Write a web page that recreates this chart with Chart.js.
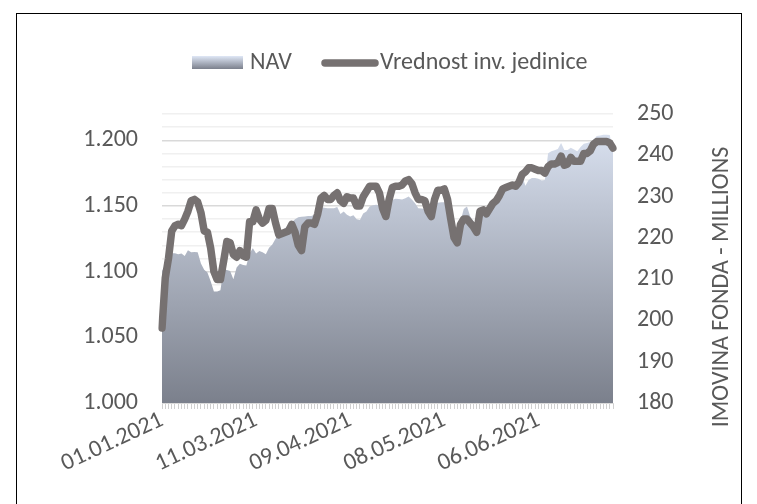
<!DOCTYPE html>
<html>
<head>
<meta charset="utf-8">
<script src="https://cdn.jsdelivr.net/npm/chart.js@4.4.1/dist/chart.umd.min.js"></script>
<style>
  html, body { margin: 0; padding: 0; background: #fff; }
  #frame { position: absolute; left: 16px; top: 13px; width: 724px; height: 510px; border: 1px solid #000; }
  #wrap { position: absolute; left: 0; top: 0; width: 757px; height: 504px; }
</style>
</head>
<body>
<div id="frame"></div>
<div id="wrap"><canvas id="chart" width="757" height="504"></canvas></div>
<script>
// category dates: first fund day, then daily from 11.02.2021 to 29.06.2021
const startDate = "01.01.2021";
const dailyFrom = [2021, 1, 11]; // year, month index, day
const dailyCount = 139;
const shownDates = ["01.01.2021", "11.03.2021", "09.04.2021", "08.05.2021", "06.06.2021"];

const dates = [startDate];
for (let i = 0; i < dailyCount; i++) {
  const d = new Date(dailyFrom[0], dailyFrom[1], dailyFrom[2] + i);
  const dd = String(d.getDate()).padStart(2, "0");
  const mm = String(d.getMonth() + 1).padStart(2, "0");
  dates.push(`${dd}.${mm}.${d.getFullYear()}`);
}

// Vrednost inv. jedinice (left axis)
const unitValue = [
  1.057, 1.095, 1.110, 1.131, 1.135, 1.136, 1.135, 1.140, 1.146, 1.154,
  1.155, 1.153, 1.145, 1.131, 1.130, 1.118, 1.100, 1.094, 1.094, 1.108,
  1.123, 1.122, 1.113, 1.111, 1.116, 1.112, 1.111, 1.138, 1.138, 1.147,
  1.140, 1.137, 1.139, 1.148, 1.148, 1.137, 1.128, 1.129, 1.130, 1.131,
  1.136, 1.130, 1.120, 1.116, 1.134, 1.137, 1.137, 1.136, 1.144, 1.156,
  1.158, 1.155, 1.155, 1.158, 1.160, 1.154, 1.152, 1.157, 1.156, 1.156,
  1.150, 1.150, 1.157, 1.161, 1.165, 1.165, 1.165, 1.160, 1.148, 1.142,
  1.155, 1.164, 1.165, 1.165, 1.166, 1.169, 1.170, 1.167, 1.160, 1.155,
  1.155, 1.154, 1.146, 1.142, 1.155, 1.162, 1.162, 1.163, 1.155, 1.140,
  1.126, 1.122, 1.136, 1.140, 1.140, 1.137, 1.134, 1.130, 1.146, 1.147,
  1.144, 1.148, 1.152, 1.154, 1.158, 1.163, 1.164, 1.165, 1.166, 1.165,
  1.168, 1.174, 1.176, 1.179, 1.179, 1.178, 1.177, 1.177, 1.175, 1.180,
  1.182, 1.182, 1.183, 1.188, 1.181, 1.182, 1.187, 1.184, 1.184, 1.184,
  1.190, 1.190, 1.192, 1.197, 1.199, 1.199, 1.199, 1.199, 1.198, 1.194
];

// NAV in millions (right axis)
const nav = [
  212.0, 213.5, 215.0, 216.3, 216.3, 216.0, 216.2, 215.6, 217.0, 216.5,
  216.6, 216.5, 213.8, 212.3, 211.6, 209.5, 207.0, 207.0, 207.3, 212.4,
  212.2, 212.0, 210.0, 212.8, 213.7, 213.4, 213.3, 216.3, 217.5, 216.2,
  216.8, 216.5, 216.0, 217.6, 218.4, 219.8, 220.8, 221.8, 222.4, 223.2,
  223.8, 224.5, 225.0, 225.1, 225.2, 225.3, 225.3, 225.6, 226.8, 227.5,
  227.3, 227.2, 227.2, 227.2, 227.5, 225.8, 226.4, 225.6, 225.2, 225.5,
  224.5, 224.3, 225.9, 226.4, 227.6, 227.9, 228.0, 227.9, 227.8, 228.3,
  228.8, 229.2, 229.5, 229.4, 229.3, 229.6, 230.0, 229.3, 228.4, 227.2,
  227.1, 227.0, 227.1, 227.8, 228.3, 228.5, 228.6, 228.6, 228.6, 227.2,
  223.0, 221.5, 224.0, 227.0, 227.6, 225.2, 224.0, 222.6, 225.5, 227.5,
  227.0, 226.5, 227.3, 228.6, 229.8, 231.3, 231.8, 232.2, 232.5, 232.6,
  233.2, 235.0, 232.6, 234.0, 234.5, 234.5, 234.3, 233.9, 234.0, 240.5,
  241.0, 241.2, 241.5, 243.0, 241.3, 241.3, 241.8, 241.4, 241.0, 242.0,
  242.8, 243.0, 243.2, 243.8, 244.7, 244.8, 245.0, 245.0, 244.9, 241.0
];

const leftMin = 1.0, leftMax = 1.22, leftStep = 0.01;
const rightMin = 180, rightMax = 250, rightStep = 10;

const FONT = "Carlito, Lato, sans-serif";
const FSIZE = 24;
const TEXT = "#595959";
const LINE = "#767171";

const navFill = (ctx) => {
  const area = ctx.chart.chartArea;
  if (!area) return "#b0b8c8";
  const g = ctx.chart.ctx.createLinearGradient(0, area.top, 0, area.bottom);
  g.addColorStop(0, "#dfe7f6");
  g.addColorStop(1, "#7b808c");
  return g;
};

const legendAndTitle = {
  id: "legendAndTitle",
  afterDraw(chart) {
    const c = chart.ctx;
    c.save();
    // NAV box
    const g = c.createLinearGradient(0, 56, 0, 69);
    g.addColorStop(0, "#dfe7f6");
    g.addColorStop(1, "#7b808c");
    c.fillStyle = g;
    c.fillRect(192, 56, 51, 13);
    c.fillStyle = TEXT;
    c.font = `${FSIZE}px ${FONT}`;
    c.textBaseline = "middle";
    c.textAlign = "left";
    c.fillText("NAV", 250, 63);
    // line sample
    c.strokeStyle = LINE;
    c.lineWidth = 7.5;
    c.lineCap = "round";
    c.beginPath();
    c.moveTo(325, 63);
    c.lineTo(375, 63);
    c.stroke();
    c.fillText("Vrednost inv. jedinice", 380, 63);
    // right axis title, bottom to top
    c.translate(722, 287);
    c.rotate(-Math.PI / 2);
    c.textAlign = "center";
    c.fillText("IMOVINA FONDA - MILLIONS", 0, 0);
    c.restore();
  }
};

new Chart(document.getElementById("chart"), {
  type: "line",
  data: {
    labels: dates,
    datasets: [
      {
        label: "NAV",
        data: nav,
        yAxisID: "y1",
        fill: "start",
        backgroundColor: navFill,
        borderWidth: 0,
        pointRadius: 0,
        tension: 0,
        order: 1
      },
      {
        label: "Vrednost inv. jedinice",
        data: unitValue,
        yAxisID: "y",
        borderColor: LINE,
        borderWidth: 7.5,
        borderJoinStyle: "round",
        borderCapStyle: "round",
        pointRadius: 0,
        tension: 0,
        fill: false,
        order: 0
      }
    ]
  },
  options: {
    responsive: false,
    animation: false,
    layout: { padding: { top: 114, left: 0, right: 0, bottom: 0 } },
    plugins: { legend: { display: false }, tooltip: { enabled: false } },
    scales: {
      x: {
        offset: false,
        grid: { display: true, drawOnChartArea: false, drawTicks: true, tickLength: 6, color: "#d0d0d0", offset: false },
        border: { display: true, color: "#d9d9d9" },
        ticks: {
          autoSkip: false,
          minRotation: 25,
          maxRotation: 25,
          padding: -3,
          color: TEXT,
          font: { family: FONT, size: FSIZE },
          callback: function (v) {
            const lab = this.getLabelForValue(v);
            return shownDates.includes(lab) ? lab : "";
          }
        },
        afterFit: (s) => { s.height = 504 - 403; }
      },
      y: {
        position: "left",
        min: leftMin,
        max: leftMax,
        grid: {
          drawTicks: false,
          color: (ctx) => (Math.round(ctx.tick.value * 100) % 5 === 0 ? "#d9d9d9" : "#f0f0f0"),
          lineWidth: 1.5
        },
        border: { display: false },
        ticks: {
          stepSize: leftStep,
          autoSkip: false,
          padding: 24,
          color: TEXT,
          font: { family: FONT, size: FSIZE },
          callback: (v) => {
            const r = Math.round(v * 100);
            return r % 5 === 0 && r <= 120 ? (r / 100).toFixed(3) : "";
          }
        },
        afterFit: (s) => { s.width = 162; }
      },
      y1: {
        position: "right",
        min: rightMin,
        max: rightMax,
        grid: { display: false, drawTicks: false },
        border: { display: false },
        ticks: {
          stepSize: rightStep,
          padding: 24,
          color: TEXT,
          font: { family: FONT, size: FSIZE }
        },
        afterFit: (s) => { s.width = 757 - 613; }
      }
    }
  },
  plugins: [legendAndTitle]
});
</script>
</body>
</html>
